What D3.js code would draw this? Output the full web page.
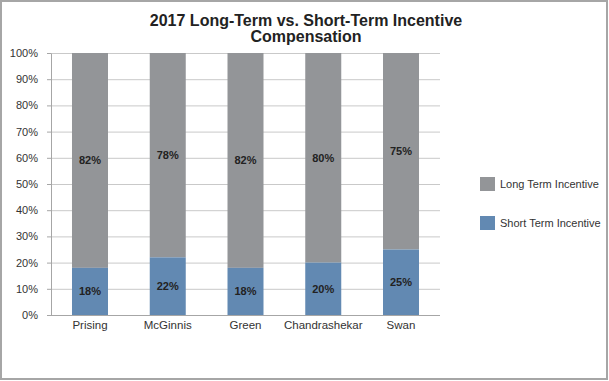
<!DOCTYPE html>
<html><head><meta charset="utf-8">
<script src="https://cdn.jsdelivr.net/npm/d3@7"></script>
<style>body{margin:0;background:#fff}svg{display:block}</style>
</head><body>
<svg id="c" width="609" height="381"></svg>
<script>
const categories = ["Prising", "McGinnis", "Green", "Chandrashekar", "Swan"];
const shortTerm = [18, 22, 18, 20, 25];
const longTerm = [82, 78, 82, 80, 75];
const seriesNames = ["Long Term Incentive", "Short Term Incentive"];
const yTicks = [0,10,20,30,40,50,60,70,80,90,100];
const colors = {long: "#939598", short: "#6289b2"};

const svg = d3.select("#c");
svg.append("rect").attr("x",1).attr("y",1).attr("width",606).attr("height",378)
  .attr("fill","#fff").attr("stroke","#a6a6a6").attr("stroke-width",2);

const x = d3.scaleBand().domain(categories).range([51, 440]).paddingInner(0.537).paddingOuter(0.27);
const y = d3.scaleLinear().domain([0,100]).range([315, 53]);
const font = "Arial, 'Liberation Sans', sans-serif";

// gridlines
svg.append("g").selectAll("line").data(yTicks.filter(d=>d>0)).join("line")
  .attr("x1",51).attr("x2",440).attr("y1",d=>y(d)+0.5).attr("y2",d=>y(d)+0.5)
  .attr("stroke","#c9c9c9").attr("stroke-width",1);

const yAxis = svg.append("g").attr("transform","translate(51,0)")
  .call(d3.axisLeft(y).tickValues(yTicks).tickFormat(d=>d+"%").tickSize(4).tickSizeOuter(0));
yAxis.select(".domain").attr("stroke","#a6a6a6");
yAxis.selectAll(".tick line").attr("stroke","#a6a6a6");
yAxis.selectAll("text").attr("font-family",font).attr("font-size","11px").attr("fill","#333").attr("x",-13);

const xAxis = svg.append("g").attr("transform","translate(0,315)")
  .call(d3.axisBottom(x).tickSize(0).tickSizeOuter(0));
xAxis.select(".domain").attr("stroke","#a6a6a6").attr("d","M47,0.5H440");
xAxis.selectAll("text").attr("font-family",font).attr("font-size","11.5px").attr("fill","#333").attr("y",14).attr("dy",0);

const g = svg.append("g");
categories.forEach((c,i)=>{
  g.append("rect").attr("x",x(c)).attr("width",x.bandwidth())
    .attr("y",y(shortTerm[i]+longTerm[i])).attr("height",y(shortTerm[i])-y(shortTerm[i]+longTerm[i]))
    .attr("fill",colors.long);
  g.append("rect").attr("x",x(c)).attr("width",x.bandwidth())
    .attr("y",y(shortTerm[i])).attr("height",y(0)-y(shortTerm[i]))
    .attr("fill",colors.short);
  g.append("text").attr("x",x(c)+x.bandwidth()/2).attr("y",y(shortTerm[i]/2)+4)
    .attr("text-anchor","middle").attr("font-family",font).attr("font-size","11px").attr("font-weight","bold").attr("fill","#222")
    .text(shortTerm[i]+"%");
  g.append("text").attr("x",x(c)+x.bandwidth()/2).attr("y",y(shortTerm[i]+longTerm[i]/2)+4)
    .attr("text-anchor","middle").attr("font-family",font).attr("font-size","11px").attr("font-weight","bold").attr("fill","#222")
    .text(longTerm[i]+"%");
});

// title
const t = svg.append("text").attr("text-anchor","middle").attr("font-family",font)
  .attr("font-size","16px").attr("font-weight","bold").attr("fill","#222");
t.append("tspan").attr("x",306).attr("y",26).text("2017 Long-Term vs. Short-Term Incentive");
t.append("tspan").attr("x",306).attr("y",42).text("Compensation");

// legend
const leg = svg.append("g");
[[seriesNames[0],colors.long,177],[seriesNames[1],colors.short,216]].forEach(([n,col,yy])=>{
  leg.append("rect").attr("x",480).attr("y",yy).attr("width",15).attr("height",14).attr("fill",col);
  leg.append("text").attr("x",500).attr("y",yy+11).attr("font-family",font).attr("font-size","11px").attr("fill","#333").text(n);
});
</script>
</body></html>
